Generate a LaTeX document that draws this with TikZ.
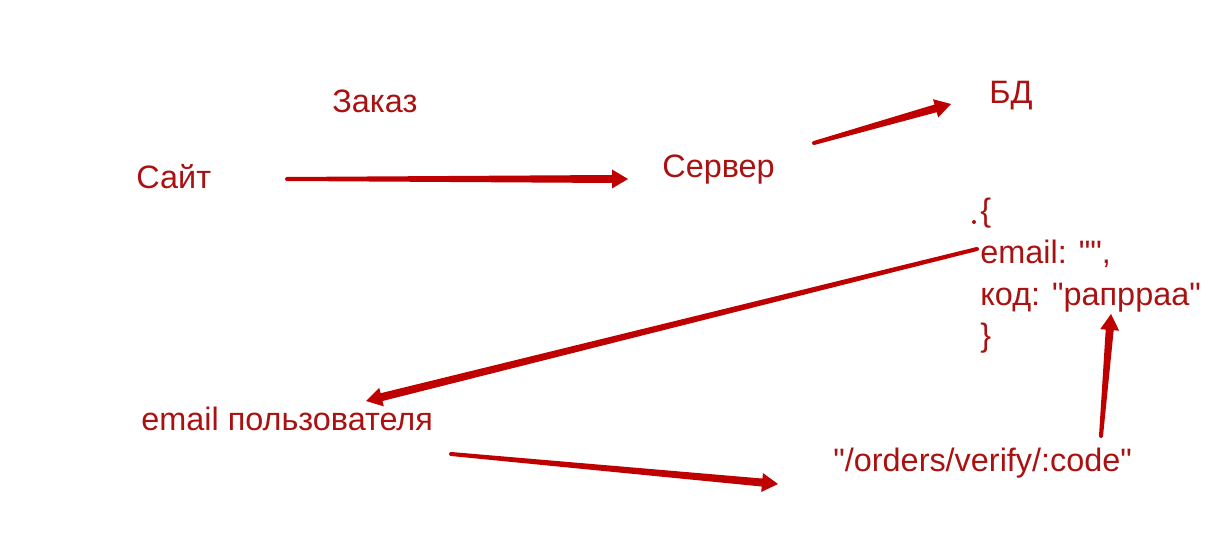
\documentclass[tikz,border=0pt]{standalone}
\usepackage{fontspec}
\setmainfont{Liberation Sans}[Ligatures=TeXOff]
\usetikzlibrary{calc}
\definecolor{textred}{RGB}{170,18,18}
\definecolor{arrowred}{RGB}{190,0,0}
\newcommand{\taperarrow}[2]{%
  \coordinate (ta-h) at ($(#2)!8pt!(#1)$);
  \fill[arrowred] (#1) circle (1pt);
  \fill[arrowred] ($(#1)!1pt!90:(#2)$) -- ($(ta-h)!2pt!-90:(#1)$)
    -- ($(ta-h)!4.75pt!-90:(#1)$) -- (#2) -- ($(ta-h)!4.75pt!90:(#1)$)
    -- ($(ta-h)!2pt!90:(#1)$) -- ($(#1)!1pt!-90:(#2)$) -- cycle;
}

\begin{document}
\begin{tikzpicture}[x=0.5pt,y=-0.5pt,
    word/.style={text=textred,font=\fontsize{16.2}{20}\selectfont,inner sep=0pt,anchor=base west}]
  \useasboundingbox (0,0) rectangle (1210,560);
  \node[word] (order) at (332,113) {Заказ};
  \node[word] (site) at (136,189) {Сайт};
  \node[word] (server) at (662,178) {Сервер};
  \node[word] (db) at (989,104) {БД};
  \node[word] (open) at (980,222) {\{};
  \node[word] (email) at (980,264) {email: "",};
  \node[word] (code) at (980,306) {код: "рапрраа"};
  \node[word] (close) at (980,347) {\}};
  \node[word] (user) at (141,431) {email пользователя};
  \node[word] (route) at (833,472) {"/orders/verify/:code"};
  \fill[textred] (974,222) circle (2);

  \coordinate (site-out) at (287,179);
  \coordinate (server-in) at (628,179);
  \coordinate (server-out) at (814,143);
  \coordinate (db-in) at (951,104);
  \coordinate (email-out) at (977,249);
  \coordinate (user-in) at (366,401);
  \coordinate (user-out) at (451,454);
  \coordinate (route-in) at (778,484);
  \coordinate (route-out) at (1101,436);
  \coordinate (code-in) at (1111,314);
  \taperarrow{site-out}{server-in}
  \taperarrow{server-out}{db-in}
  \taperarrow{email-out}{user-in}
  \taperarrow{user-out}{route-in}
  \taperarrow{route-out}{code-in}
\end{tikzpicture}
\end{document}
